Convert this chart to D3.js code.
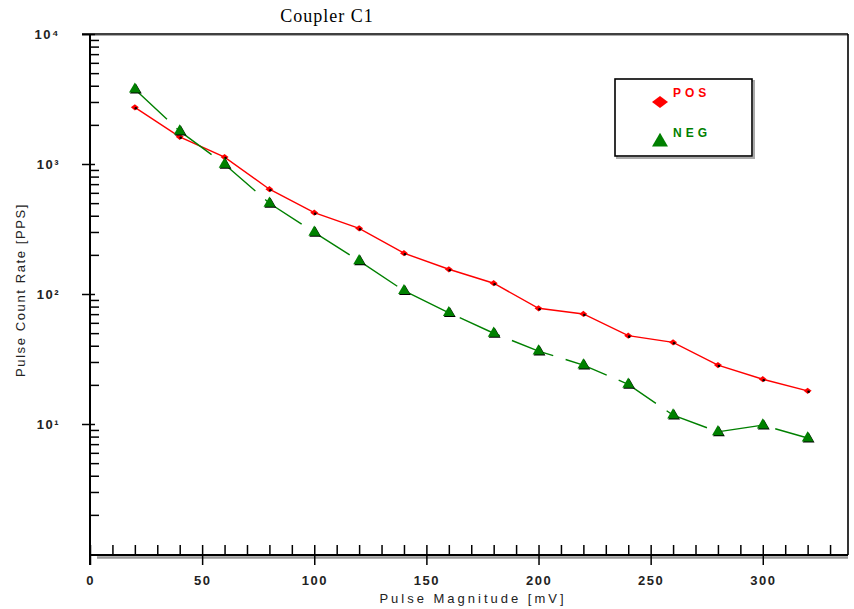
<!DOCTYPE html>
<html>
<head>
<meta charset="utf-8">
<script src="https://cdn.jsdelivr.net/npm/d3@7"></script>
<style>
  body { margin: 0; background: #fff; }
  svg { display: block; }
</style>
</head>
<body>
<svg id="chart" width="854" height="609"></svg>
<script>
// pulse magnitude (mV)
const magnitudes = [20, 40, 60, 80, 100, 120, 140, 160, 180, 200, 220, 240, 260, 280, 300, 320];
// pulse count rate (PPS)
const posRate = [2730, 1620, 1130, 640, 422, 320, 206, 155, 121, 77.6, 70.2, 47.8, 42.5, 28.4, 22.1, 18.0];
const negRate = [3760, 1790, 995, 499, 298, 180, 106, 71.8, 49.9, 36.4, 28.4, 20.2, 11.7, 8.7, 9.8, 7.8];

const xTicks = [0, 50, 100, 150, 200, 250, 300];
const yTicks = [10, 100, 1000, 10000];
const supers = {1: "\u00b9", 2: "\u00b2", 3: "\u00b3", 4: "\u2074"};

const svg = d3.select("#chart");
const plotLeft = 90, plotRight = 848, plotTop = 34, plotBottom = 555;
const sans = "Liberation Sans, Arial, sans-serif";

const x = d3.scaleLinear().domain([0, 338]).range([plotLeft, plotRight]);
const y = d3.scaleLog().domain([1, 10000]).range([554, plotTop]);

// frame
svg.append("line").attr("x1", 82).attr("x2", plotRight).attr("y1", plotTop + 1.5).attr("y2", plotTop + 1.5)
    .attr("stroke", "#aaa").attr("stroke-width", 1);
svg.append("line").attr("x1", 82).attr("x2", plotRight).attr("y1", plotTop).attr("y2", plotTop)
    .attr("stroke", "#000").attr("stroke-width", 1.6);
svg.append("line").attr("x1", plotRight).attr("x2", plotRight).attr("y1", plotTop).attr("y2", plotBottom)
    .attr("stroke", "#000").attr("stroke-width", 1.6);
svg.append("line").attr("x1", 97).attr("x2", plotRight).attr("y1", plotBottom + 2.5).attr("y2", plotBottom + 2.5)
    .attr("stroke", "#999").attr("stroke-width", 2.5);

// y axis
const yMinor = [];
for (let p = 0; p < 4; p++) for (let k = 2; k <= 9; k++) yMinor.push(k * Math.pow(10, p));

svg.append("g").attr("transform", `translate(${plotLeft},0)`)
    .call(d3.axisRight(y).tickValues(yMinor).tickSize(9).tickFormat(""))
    .call(g => g.select(".domain").remove());
svg.append("g").attr("transform", `translate(${plotLeft},0)`)
    .call(d3.axisRight(y).tickValues(yTicks).tickSize(5).tickFormat(""))
    .call(g => g.select(".domain").remove());
const yAxis = svg.append("g").attr("transform", `translate(${plotLeft},0)`)
    .call(d3.axisLeft(y).tickValues(yTicks).tickSize(8).tickPadding(22)
        .tickFormat(d => "10" + supers[Math.round(Math.log10(d))]));
yAxis.select(".domain").remove();
yAxis.selectAll("text").attr("font-family", sans).attr("font-size", 13)
    .attr("font-weight", "bold").attr("letter-spacing", 1.5).attr("fill", "#222");
svg.selectAll(".tick line").attr("stroke", "#000").attr("stroke-width", 1.5);
svg.append("line").attr("x1", plotLeft).attr("x2", plotLeft).attr("y1", plotTop).attr("y2", 565)
    .attr("stroke", "#000").attr("stroke-width", 2);

// x axis
svg.append("g").attr("transform", `translate(0,${plotBottom})`)
    .call(d3.axisTop(x).tickValues(d3.range(0, 340, 10)).tickSize(10).tickFormat(""))
    .call(g => g.select(".domain").remove());
const xAxis = svg.append("g").attr("transform", `translate(0,${plotBottom})`)
    .call(d3.axisBottom(x).tickValues(xTicks).tickSize(10).tickPadding(11));
xAxis.select(".domain").remove();
xAxis.selectAll("text").attr("font-family", sans).attr("font-size", 13)
    .attr("font-weight", "bold").attr("letter-spacing", 1.5).attr("fill", "#222");
svg.selectAll(".tick line").attr("stroke", "#000").attr("stroke-width", 1.5);
svg.append("line").attr("x1", plotLeft).attr("x2", plotRight).attr("y1", plotBottom).attr("y2", plotBottom)
    .attr("stroke", "#000").attr("stroke-width", 2);

// title and axis labels
svg.append("text").attr("x", 327).attr("y", 22).attr("text-anchor", "middle")
    .attr("font-family", "Liberation Serif, Times New Roman, serif").attr("font-size", 18)
    .attr("letter-spacing", 1).text("Coupler C1");
svg.append("text").attr("x", 473).attr("y", 603).attr("text-anchor", "middle")
    .attr("font-family", sans).attr("font-size", 13)
    .attr("letter-spacing", 3).attr("fill", "#222").text("Pulse Magnitude [mV]");
svg.append("text").attr("transform", "translate(25,290) rotate(-90)").attr("text-anchor", "middle")
    .attr("font-family", sans).attr("font-size", 13)
    .attr("letter-spacing", 1.6).attr("fill", "#222").text("Pulse Count Rate [PPS]");

// series
const line = d3.line().x(d => x(d[0])).y(d => y(d[1]));
const pos = magnitudes.map((m, i) => [m, posRate[i]]);
const neg = magnitudes.map((m, i) => [m, negRate[i]]);

svg.append("path").datum(pos).attr("d", line).attr("fill", "none")
    .attr("stroke", "#ff0000").attr("stroke-width", 1.4);
svg.append("path").datum(neg).attr("d", line).attr("fill", "none")
    .attr("stroke", "#008000").attr("stroke-width", 1.4).attr("stroke-dasharray", "44,13");

const square = d3.symbol().type(d3.symbolSquare);
const triangle = d3.symbol().type(d3.symbolTriangle);

svg.selectAll(".pos").data(pos).join("path").attr("class", "pos")
    .attr("transform", d => `translate(${x(d[0])},${y(d[1])}) scale(1.15,0.9) rotate(45)`)
    .attr("d", square.size(24)).attr("fill", "#ff0000");
svg.selectAll(".posdot").data(pos).join("circle").attr("class", "posdot")
    .attr("cx", d => x(d[0]) + 1).attr("cy", d => y(d[1]) + 1).attr("r", 1.3).attr("fill", "#000");

svg.selectAll(".negsh").data(neg).join("path").attr("class", "negsh")
    .attr("transform", d => `translate(${x(d[0]) + 1},${y(d[1]) + 1})`)
    .attr("d", triangle.size(60)).attr("fill", "#000");
svg.selectAll(".neg").data(neg).join("path").attr("class", "neg")
    .attr("transform", d => `translate(${x(d[0])},${y(d[1])})`)
    .attr("d", triangle.size(60)).attr("fill", "#008000");

// legend
svg.append("rect").attr("x", 617).attr("y", 81).attr("width", 137).attr("height", 77)
    .attr("fill", "none").attr("stroke", "#aaa").attr("stroke-width", 2);
svg.append("rect").attr("x", 615).attr("y", 79).attr("width", 137).attr("height", 77)
    .attr("fill", "#fff").attr("stroke", "#000").attr("stroke-width", 1.6);
svg.append("path").attr("transform", "translate(660,102) scale(1.35,1) rotate(45)")
    .attr("d", square.size(70)).attr("fill", "#ff0000");
svg.append("path").attr("transform", "translate(660,142)").attr("d", triangle.size(110)).attr("fill", "#008000");
svg.append("text").attr("x", 673).attr("y", 97).attr("font-family", sans)
    .attr("font-size", 12).attr("font-weight", "bold").attr("letter-spacing", 4)
    .attr("fill", "#ff0000").text("POS");
svg.append("text").attr("x", 673).attr("y", 137).attr("font-family", sans)
    .attr("font-size", 12).attr("font-weight", "bold").attr("letter-spacing", 4)
    .attr("fill", "#008000").text("NEG");
</script>
</body>
</html>
